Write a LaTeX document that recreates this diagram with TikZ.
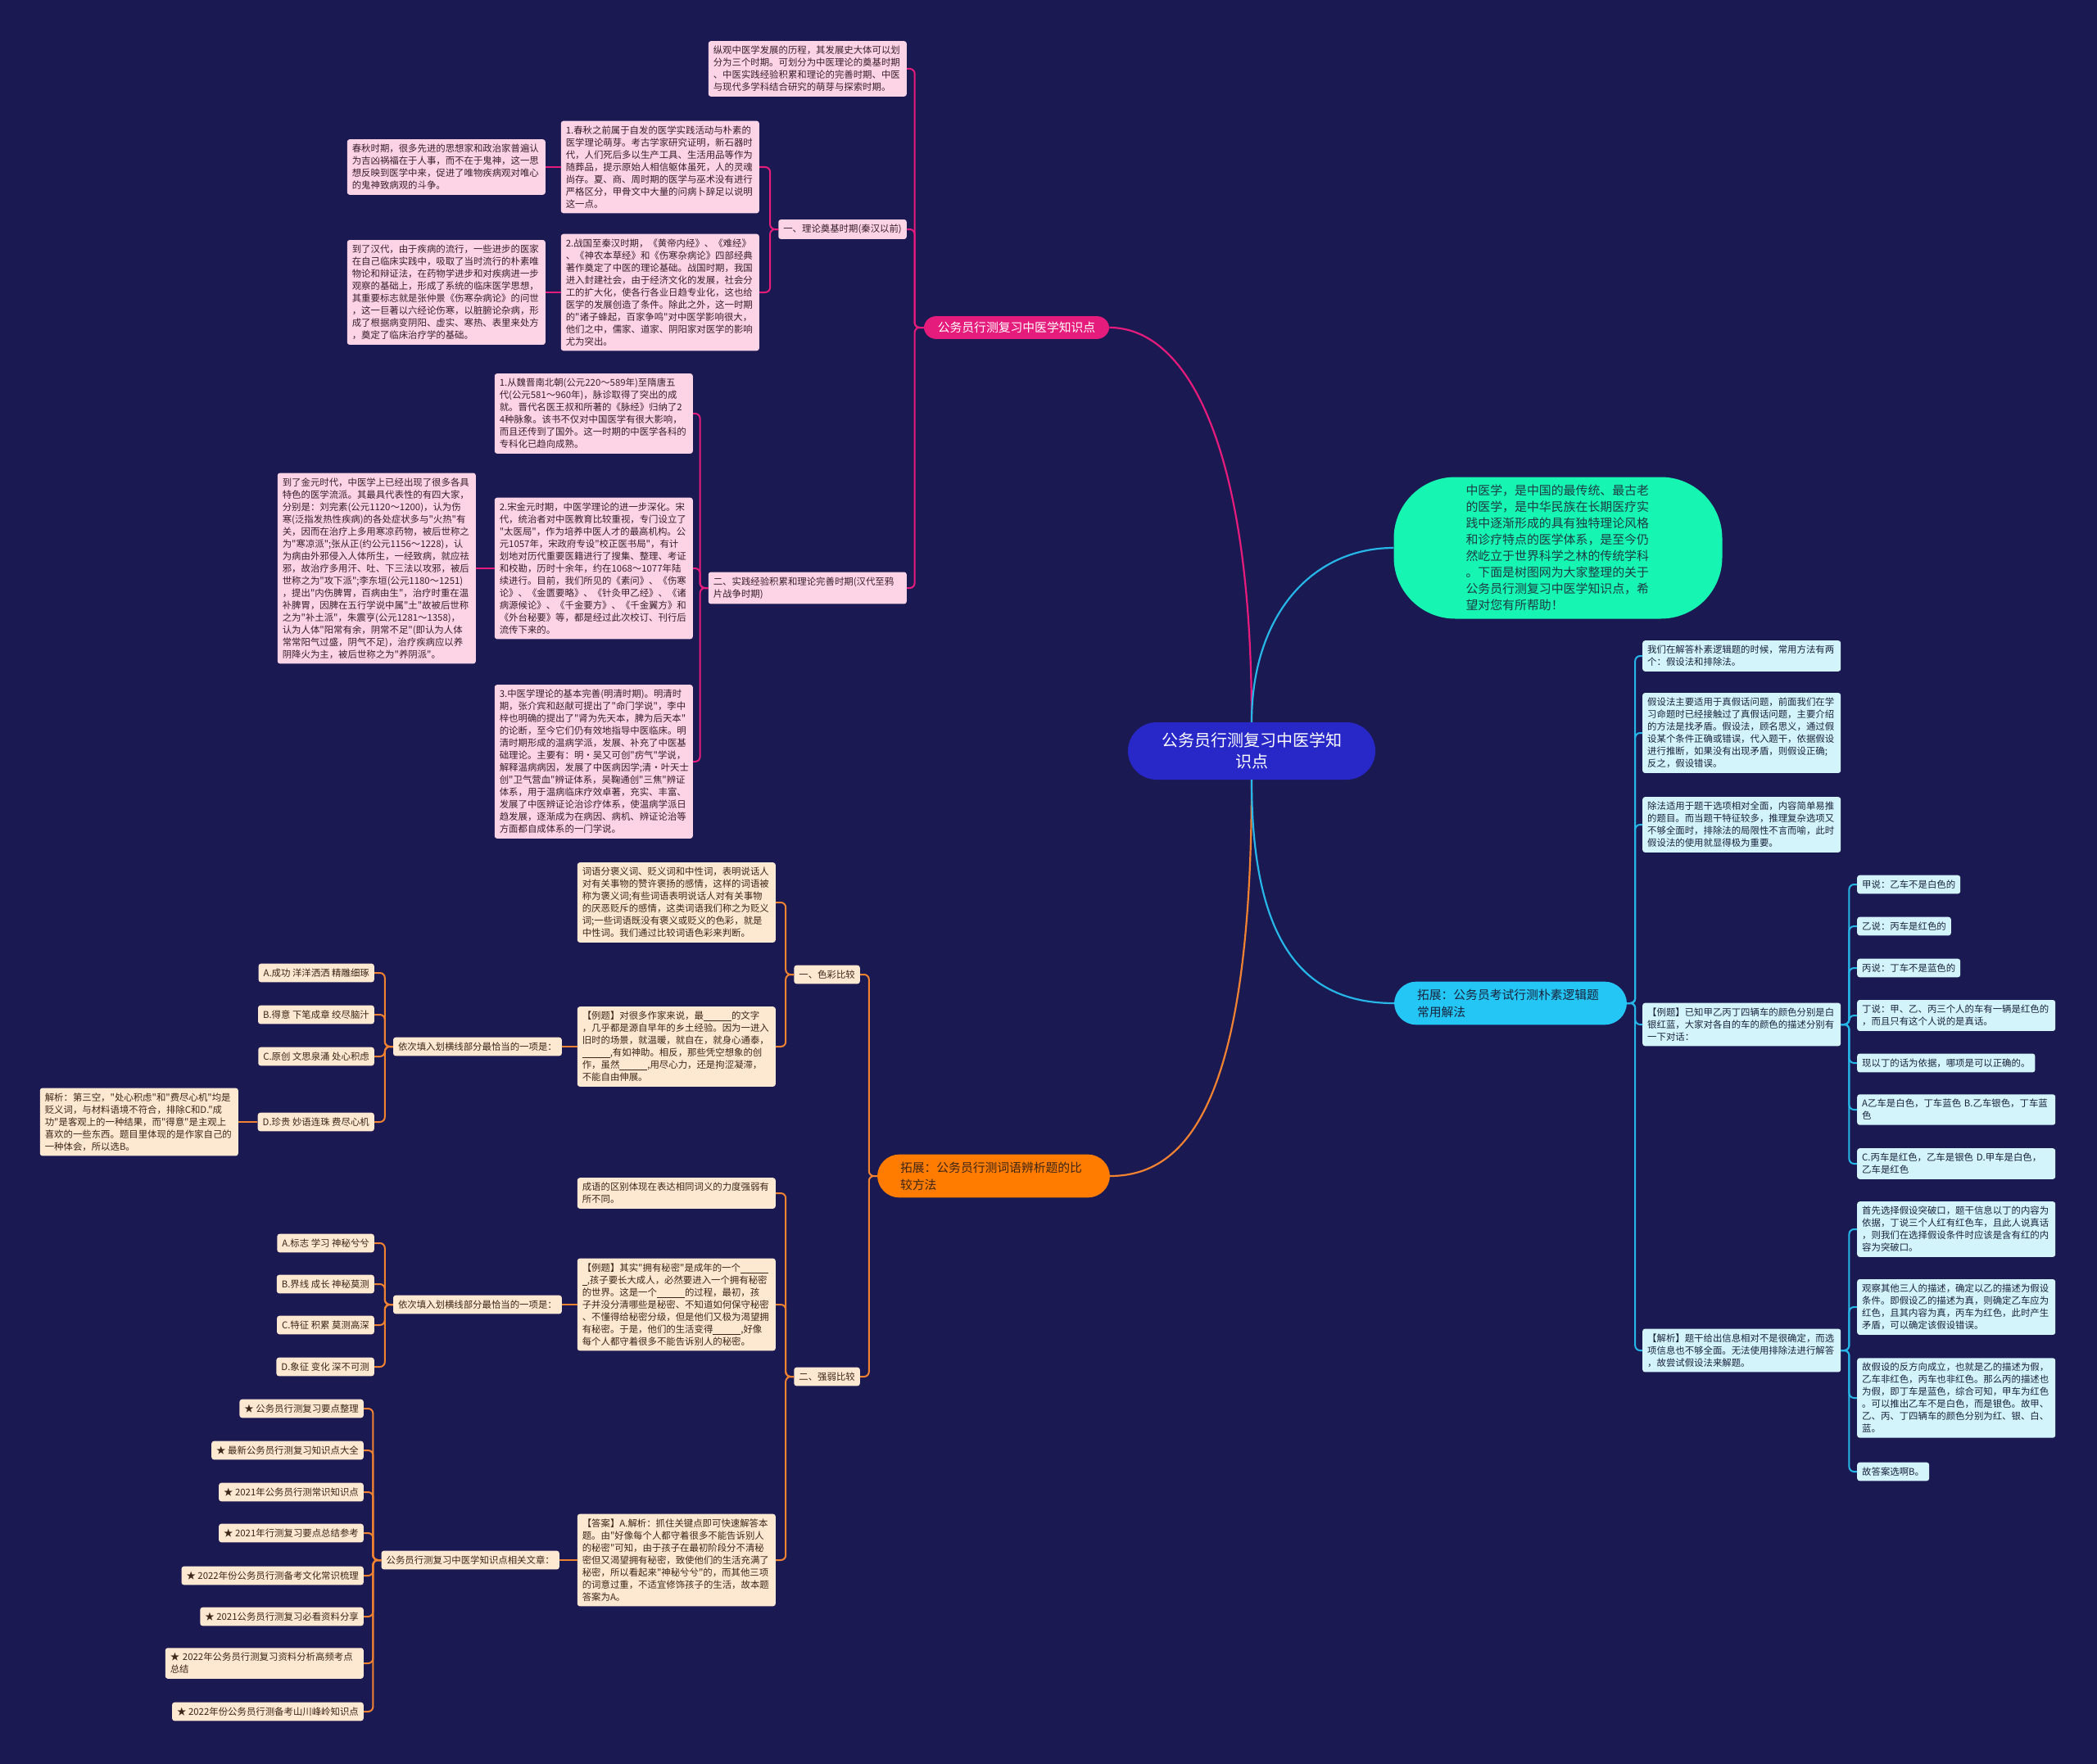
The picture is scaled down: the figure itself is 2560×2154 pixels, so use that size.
\documentclass[tikz,border=0pt]{standalone}
\usepackage{fontspec}
\setmainfont{Noto Sans CJK SC}
\newfontfamily\zhfont{Noto Sans CJK SC}

\definecolor{bgnavy}{RGB}{27,25,82}
\definecolor{rootblue}{RGB}{40,40,200}
\definecolor{greenintro}{RGB}{22,245,178}
\definecolor{introink}{RGB}{30,60,70}
\definecolor{pinkdeep}{RGB}{229,28,124}
\definecolor{pinklight}{RGB}{253,212,230}
\definecolor{pinkink}{RGB}{55,30,45}
\definecolor{orangedeep}{RGB}{240,130,50}
\definecolor{orangebright}{RGB}{255,124,0}
\definecolor{orangelight}{RGB}{253,232,210}
\definecolor{orangeink}{RGB}{60,38,25}
\definecolor{bluedeep}{RGB}{38,182,232}
\definecolor{bluebright}{RGB}{36,198,245}
\definecolor{bluelight}{RGB}{212,244,252}
\definecolor{blueink}{RGB}{25,35,60}

\newcommand{\tiankong}{\rule[-2pt]{34pt}{0.6pt}}

\tikzset{
  leaf/.style={rounded corners=3pt, inner xsep=6pt, inner ysep=6pt,
    font=\zhfont\fontsize{11.4pt}{15pt}\selectfont, align=left},
  wide/.style={text width=230pt},
  pinkleaf/.style={leaf, fill=pinklight, text=pinkink},
  orangeleaf/.style={leaf, fill=orangelight, text=orangeink},
  blueleaf/.style={leaf, fill=bluelight, text=blueink},
  pinkwire/.style={pinkdeep, line width=2pt, rounded corners=6pt},
  orangewire/.style={orangedeep, line width=2pt, rounded corners=6pt},
  bluewire/.style={bluedeep, line width=2pt, rounded corners=6pt},
  mainbranch/.style={font=\zhfont\fontsize{14.8pt}{21pt}\selectfont, align=left, inner ysep=9pt},
}

\begin{document}
\begin{tikzpicture}[x=1pt,y=-1pt]
    \fill[bgnavy] (0,0) rectangle (2560,2154);
    \useasboundingbox (0,0) rectangle (2560,2154);

    % centre and intro
    \node[fill=rootblue, text=white, rounded corners=35pt, minimum width=302pt, minimum height=70pt,
        align=center, font=\zhfont\fontsize{20pt}{26pt}\selectfont] (root) at (1528,917) {公务员行测复习中医学知\\识点};
    \node[fill=greenintro, text=introink, rounded corners=75pt, minimum width=401pt, minimum height=173pt,
        text width=225pt, align=left, font=\zhfont\fontsize{14.9pt}{20pt}\selectfont] (intro) at (1902,669)
        {中医学，是中国的最传统、最古老\\的医学，是中华民族在长期医疗实\\践中逐渐形成的具有独特理论风格\\和诊疗特点的医学体系，是至今仍\\然屹立于世界科学之林的传统学科\\。下面是树图网为大家整理的关于\\公务员行测复习中医学知识点，希\\望对您有所帮助！};

    % main branches
    \node[mainbranch, fill=pinkdeep, text=white, rounded corners=15pt, inner xsep=17pt, inner ysep=7pt] (med) at (1241,400) {公务员行测复习中医学知识点};
    \node[mainbranch, fill=orangebright, text=orangeink, rounded corners=27pt, text width=228pt, inner xsep=28pt] (ciyu) at (1213,1436) {拓展：公务员行测词语辨析题的比\\较方法};
    \node[mainbranch, fill=bluebright, text=blueink, rounded corners=27pt, text width=228pt, inner xsep=28pt] (luoji) at (1844,1225) {拓展：公务员考试行测朴素逻辑题\\常用解法};

    \draw[pinkdeep, line width=2.2pt] (root.north) .. controls +(0,-350) and +(90,0) .. (med.east);
    \draw[bluedeep, line width=2.2pt] (root.north) .. controls +(0,-130) and +(-100,0) .. (intro.west);
    \draw[orangedeep, line width=2.2pt] (root.south) .. controls +(0,380) and +(100,0) .. (ciyu.east);
    \draw[bluedeep, line width=2.2pt] (root.south) .. controls +(0,200) and +(-110,0) .. (luoji.west);

    % pink branch
    \node[pinkleaf, wide, anchor=east] (zongguan) at (1107,84) {纵观中医学发展的历程，其发展史大体可以划\\分为三个时期。可划分为中医理论的奠基时期\\、中医实践经验积累和理论的完善时期、中医\\与现代多学科结合研究的萌芽与探索时期。};
    \node[pinkleaf, anchor=east] (lilun) at (1107,280) {一、理论奠基时期(秦汉以前)};
    \node[pinkleaf, wide, anchor=east] (chunqiu) at (927,204) {1.春秋之前属于自发的医学实践活动与朴素的\\医学理论萌芽。考古学家研究证明，新石器时\\代，人们死后多以生产工具、生活用品等作为\\随葬品，提示原始人相信躯体虽死，人的灵魂\\尚存。夏、商、周时期的医学与巫术没有进行\\严格区分，甲骨文中大量的问病卜辞足以说明\\这一点。};
    \node[pinkleaf, wide, anchor=east] (chunqiuqi) at (666,204) {春秋时期，很多先进的思想家和政治家普遍认\\为吉凶祸福在于人事，而不在于鬼神，这一思\\想反映到医学中来，促进了唯物疾病观对唯心\\的鬼神致病观的斗争。};
    \node[pinkleaf, wide, anchor=east] (zhanguo) at (927,357) {2.战国至秦汉时期，《黄帝内经》、《难经》\\、《神农本草经》和《伤寒杂病论》四部经典\\著作奠定了中医的理论基础。战国时期，我国\\进入封建社会，由于经济文化的发展，社会分\\工的扩大化，使各行各业日趋专业化，这也给\\医学的发展创造了条件。除此之外，这一时期\\的"诸子蜂起，百家争鸣"对中医学影响很大，\\他们之中，儒家、道家、阴阳家对医学的影响\\尤为突出。};
    \node[pinkleaf, wide, anchor=east] (handai) at (666,357) {到了汉代，由于疾病的流行，一些进步的医家\\在自己临床实践中，吸取了当时流行的朴素唯\\物论和辩证法，在药物学进步和对疾病进一步\\观察的基础上，形成了系统的临床医学思想，\\其重要标志就是张仲景《伤寒杂病论》的问世\\，这一巨著以六经论伤寒，以脏腑论杂病，形\\成了根据病变阴阳、虚实、寒热、表里来处方\\，奠定了临床治疗学的基础。};
    \node[pinkleaf, wide, anchor=east] (shijian) at (1107,718) {二、实践经验积累和理论完善时期(汉代至鸦\\片战争时期)};
    \node[pinkleaf, wide, anchor=east] (weijin) at (846,505) {1.从魏晋南北朝(公元220～589年)至隋唐五\\代(公元581～960年)，脉诊取得了突出的成\\就。晋代名医王叔和所著的《脉经》归纳了2\\4种脉象。该书不仅对中国医学有很大影响，\\而且还传到了国外。这一时期的中医学各科的\\专科化已趋向成熟。};
    \node[pinkleaf, wide, anchor=east] (songjin) at (846,694) {2.宋金元时期，中医学理论的进一步深化。宋\\代，统治者对中医教育比较重视，专门设立了\\"太医局"，作为培养中医人才的最高机构。公\\元1057年，宋政府专设"校正医书局"，有计\\划地对历代重要医籍进行了搜集、整理、考证\\和校勘，历时十余年，约在1068～1077年陆\\续进行。目前，我们所见的《素问》、《伤寒\\论》、《金匮要略》、《针灸甲乙经》、《诸\\病源候论》、《千金要方》、《千金翼方》和\\《外台秘要》等，都是经过此次校订、刊行后\\流传下来的。};
    \node[pinkleaf, wide, anchor=east] (jinyuan) at (581,694) {到了金元时代，中医学上已经出现了很多各具\\特色的医学流派。其最具代表性的有四大家，\\分别是：刘完素(公元1120～1200)，认为伤\\寒(泛指发热性疾病)的各处症状多与"火热"有\\关，因而在治疗上多用寒凉药物，被后世称之\\为"寒凉派";张从正(约公元1156～1228)，认\\为病由外邪侵入人体所生，一经致病，就应祛\\邪，故治疗多用汗、吐、下三法以攻邪，被后\\世称之为"攻下派";李东垣(公元1180～1251)\\，提出"内伤脾胃，百病由生"，治疗时重在温\\补脾胃，因脾在五行学说中属"土"故被后世称\\之为"补土派"，朱震亨(公元1281～1358)，\\认为人体"阳常有余，阴常不足"(即认为人体\\常常阳气过盛，阴气不足)，治疗疾病应以养\\阴降火为主，被后世称之为"养阴派"。};
    \node[pinkleaf, wide, anchor=east] (mingqing) at (846,930) {3.中医学理论的基本完善(明清时期)。明清时\\期，张介宾和赵献可提出了"命门学说"，李中\\梓也明确的提出了"肾为先天本，脾为后天本"\\的论断，至今它们仍有效地指导中医临床。明\\清时期形成的温病学派，发展、补充了中医基\\础理论。主要有：明·吴又可创"疠气"学说，\\解释温病病因，发展了中医病因学;清·叶天士\\创"卫气营血"辨证体系，吴鞠通创"三焦"辨证\\体系，用于温病临床疗效卓著，充实、丰富、\\发展了中医辨证论治诊疗体系，使温病学派日\\趋发展，逐渐成为在病因、病机、辨证论治等\\方面都自成体系的一门学说。};

    \draw[pinkwire] (med.west) -- ++(-11,0) |- (zongguan.east);
    \draw[pinkwire] (med.west) -- ++(-11,0) |- (lilun.east);
    \draw[pinkwire] (med.west) -- ++(-11,0) |- (shijian.east);
    \draw[pinkwire] (lilun.west) -- ++(-10,0) |- (chunqiu.east);
    \draw[pinkwire] (lilun.west) -- ++(-10,0) |- (zhanguo.east);
    \draw[pinkwire] (chunqiu.west) -- (chunqiuqi.east);
    \draw[pinkwire] (zhanguo.west) -- (handai.east);
    \draw[pinkwire] (shijian.west) -- ++(-10,0) |- (weijin.east);
    \draw[pinkwire] (shijian.west) -- ++(-10,0) |- (songjin.east);
    \draw[pinkwire] (shijian.west) -- ++(-10,0) |- (mingqing.east);
    \draw[pinkwire] (songjin.west) -- (jinyuan.east);

    % orange branch
    \node[orangeleaf, anchor=east] (secai) at (1050,1190) {一、色彩比较};
    \node[orangeleaf, wide, anchor=east] (baobian) at (947,1102) {词语分褒义词、贬义词和中性词，表明说话人\\对有关事物的赞许褒扬的感情，这样的词语被\\称为褒义词;有些词语表明说话人对有关事物\\的厌恶贬斥的感情，这类词语我们称之为贬义\\词;一些词语既没有褒义或贬义的色彩，就是\\中性词。我们通过比较词语色彩来判断。};
    \node[orangeleaf, wide, anchor=east] (lizuojia) at (947,1278) {【例题】对很多作家来说，最\tiankong 的文字\\，几乎都是源自早年的乡土经验。因为一进入\\旧时的场景，就温暖，就自在，就身心通泰，\\\tiankong,有如神助。相反，那些凭空想象的创\\作，虽然\tiankong,用尽心力，还是拘涩凝滞，\\不能自由伸展。};
    \node[orangeleaf, anchor=east] (tianru) at (686,1278) {依次填入划横线部分最恰当的一项是：};
    \node[orangeleaf, anchor=east] (chenggong) at (457,1188) {A.成功 洋洋洒洒 精雕细琢};
    \node[orangeleaf, anchor=east] (deyi) at (457,1239) {B.得意 下笔成章 绞尽脑汁};
    \node[orangeleaf, anchor=east] (yuanchuang) at (457,1290) {C.原创 文思泉涌 处心积虑};
    \node[orangeleaf, anchor=east] (zhengui) at (457,1370) {D.珍贵 妙语连珠 费尽心机};
    \node[orangeleaf, wide, anchor=east] (jiexizuojia) at (291,1370) {解析：第三空，"处心积虑"和"费尽心机"均是\\贬义词，与材料语境不符合，排除C和D."成\\功"是客观上的一种结果，而"得意"是主观上\\喜欢的一些东西。题目里体现的是作家自己的\\一种体会，所以选B。};

    \node[orangeleaf, anchor=east] (qiangruo) at (1050,1681) {二、强弱比较};
    \node[orangeleaf, wide, anchor=east] (chengyu) at (947,1457) {成语的区别体现在表达相同词义的力度强弱有\\所不同。};
    \node[orangeleaf, wide, anchor=east] (limimi) at (947,1593) {【例题】其实"拥有秘密"是成年的一个\tiankong\\\rule[-2pt]{6pt}{0.6pt},孩子要长大成人，必然要进入一个拥有秘密\\的世界。这是一个\tiankong 的过程，最初，孩\\子并没分清哪些是秘密、不知道如何保守秘密\\、不懂得给秘密分级，但是他们又极为渴望拥\\有秘密。于是，他们的生活变得\tiankong,好像\\每个人都守着很多不能告诉别人的秘密。};
    \node[orangeleaf, anchor=east] (tianrumi) at (686,1593) {依次填入划横线部分最恰当的一项是：};
    \node[orangeleaf, anchor=east] (biaozhi) at (457,1518) {A.标志 学习 神秘兮兮};
    \node[orangeleaf, anchor=east] (jiexian) at (457,1568) {B.界线 成长 神秘莫测};
    \node[orangeleaf, anchor=east] (tezheng) at (457,1618) {C.特征 积累 莫测高深};
    \node[orangeleaf, anchor=east] (xiangzheng) at (457,1669) {D.象征 变化 深不可测};
    \node[orangeleaf, wide, anchor=east] (daan) at (947,1905) {【答案】A.解析：抓住关键点即可快速解答本\\题。由"好像每个人都守着很多不能告诉别人\\的秘密"可知，由于孩子在最初阶段分不清秘\\密但又渴望拥有秘密，致使他们的生活充满了\\秘密，所以看起来"神秘兮兮"的，而其他三项\\的词意过重，不适宜修饰孩子的生活，故本题\\答案为A。};
    \node[orangeleaf, anchor=east] (xiangguan) at (683,1905) {公务员行测复习中医学知识点相关文章：};
    \node[orangeleaf, anchor=east] (wenzhang1) at (444,1720) {★ 公务员行测复习要点整理};
    \node[orangeleaf, anchor=east] (wenzhang2) at (444,1771) {★ 最新公务员行测复习知识点大全};
    \node[orangeleaf, anchor=east] (wenzhang3) at (444,1822) {★ 2021年公务员行测常识知识点};
    \node[orangeleaf, anchor=east] (wenzhang4) at (444,1872) {★ 2021年行测复习要点总结参考};
    \node[orangeleaf, anchor=east] (wenzhang5) at (444,1924) {★ 2022年份公务员行测备考文化常识梳理};
    \node[orangeleaf, anchor=east] (wenzhang6) at (444,1974) {★ 2021公务员行测复习必看资料分享};
    \node[orangeleaf, wide, anchor=east] (wenzhang7) at (444,2031) {★ 2022年公务员行测复习资料分析高频考点\\总结};
    \node[orangeleaf, anchor=east] (wenzhang8) at (444,2090) {★ 2022年份公务员行测备考山川峰岭知识点};

    \draw[orangewire] (ciyu.west) -- ++(-10,0) |- (secai.east);
    \draw[orangewire] (ciyu.west) -- ++(-10,0) |- (qiangruo.east);
    \draw[orangewire] (secai.west) -- ++(-10,0) |- (baobian.east);
    \draw[orangewire] (secai.west) -- ++(-10,0) |- (lizuojia.east);
    \draw[orangewire] (lizuojia.west) -- (tianru.east);
    \foreach \opt in {chenggong,deyi,yuanchuang,zhengui}
        \draw[orangewire] (tianru.west) -- ++(-10,0) |- (\opt.east);
    \draw[orangewire] (zhengui.west) -- (jiexizuojia.east);
    \draw[orangewire] (qiangruo.west) -- ++(-10,0) |- (chengyu.east);
    \draw[orangewire] (qiangruo.west) -- ++(-10,0) |- (limimi.east);
    \draw[orangewire] (qiangruo.west) -- ++(-10,0) |- (daan.east);
    \draw[orangewire] (limimi.west) -- (tianrumi.east);
    \foreach \opt in {biaozhi,jiexian,tezheng,xiangzheng}
        \draw[orangewire] (tianrumi.west) -- ++(-10,0) |- (\opt.east);
    \draw[orangewire] (daan.west) -- (xiangguan.east);
    \foreach \i in {1,...,8}
        \draw[orangewire] (xiangguan.west) -- ++(-10,0) |- (wenzhang\i.east);

    % blue branch
    \node[blueleaf, wide, anchor=west] (liangfa) at (2005,801) {我们在解答朴素逻辑题的时候，常用方法有两\\个：假设法和排除法。};
    \node[blueleaf, wide, anchor=west] (jiashefa) at (2005,895) {假设法主要适用于真假话问题，前面我们在学\\习命题时已经接触过了真假话问题，主要介绍\\的方法是找矛盾。假设法，顾名思义，通过假\\设某个条件正确或错误，代入题干，依据假设\\进行推断，如果没有出现矛盾，则假设正确;\\反之，假设错误。};
    \node[blueleaf, wide, anchor=west] (chufa) at (2005,1007) {除法适用于题干选项相对全面，内容简单易推\\的题目。而当题干特征较多，推理复杂选项又\\不够全面时，排除法的局限性不言而喻，此时\\假设法的使用就显得极为重要。};
    \node[blueleaf, wide, anchor=west] (lidianche) at (2005,1251) {【例题】已知甲乙丙丁四辆车的颜色分别是白\\银红蓝，大家对各自的车的颜色的描述分别有\\一下对话：};
    \node[blueleaf, anchor=west] (jiashuo) at (2267,1080) {甲说：乙车不是白色的};
    \node[blueleaf, anchor=west] (yishuo) at (2267,1131) {乙说：丙车是红色的};
    \node[blueleaf, anchor=west] (bingshuo) at (2267,1182) {丙说：丁车不是蓝色的};
    \node[blueleaf, wide, anchor=west] (dingshuo) at (2267,1240) {丁说：甲、乙、丙三个人的车有一辆是红色的\\，而且只有这个人说的是真话。};
    \node[blueleaf, anchor=west] (yiju) at (2267,1298) {现以丁的话为依据，哪项是可以正确的。};
    \node[blueleaf, wide, anchor=west] (xuanab) at (2267,1355) {A乙车是白色，丁车蓝色 B.乙车银色，丁车蓝\\色};
    \node[blueleaf, wide, anchor=west] (xuancd) at (2267,1421) {C.丙车是红色，乙车是银色 D.甲车是白色，\\乙车是红色};
    \node[blueleaf, wide, anchor=west] (jiexiche) at (2005,1649) {【解析】题干给出信息相对不是很确定，而选\\项信息也不够全面。无法使用排除法进行解答\\，故尝试假设法来解题。};
    \node[blueleaf, wide, anchor=west] (tupokou) at (2267,1501) {首先选择假设突破口，题干信息以丁的内容为\\依据，丁说三个人红有红色车，且此人说真话\\，则我们在选择假设条件时应该是含有红的内\\容为突破口。};
    \node[blueleaf, wide, anchor=west] (guancha) at (2267,1596) {观察其他三人的描述，确定以乙的描述为假设\\条件。即假设乙的描述为真，则确定乙车应为\\红色，且其内容为真，丙车为红色，此时产生\\矛盾，可以确定该假设错误。};
    \node[blueleaf, wide, anchor=west] (fanfangxiang) at (2267,1707) {故假设的反方向成立，也就是乙的描述为假，\\乙车非红色，丙车也非红色。那么丙的描述也\\为假，即丁车是蓝色，综合可知，甲车为红色\\。可以推出乙车不是白色，而是银色。故甲、\\乙、丙、丁四辆车的颜色分别为红、银、白、\\蓝。};
    \node[blueleaf, anchor=west] (xuanb) at (2267,1797) {故答案选啊B。};

    \foreach \kid in {liangfa,jiashefa,chufa,lidianche,jiexiche}
        \draw[bluewire] (luoji.east) -- ++(10,0) |- (\kid.west);
    \foreach \kid in {jiashuo,yishuo,bingshuo,dingshuo,yiju,xuanab,xuancd}
        \draw[bluewire] (lidianche.east) -- ++(10,0) |- (\kid.west);
    \foreach \kid in {tupokou,guancha,fanfangxiang,xuanb}
        \draw[bluewire] (jiexiche.east) -- ++(10,0) |- (\kid.west);
\end{tikzpicture}
\end{document}
